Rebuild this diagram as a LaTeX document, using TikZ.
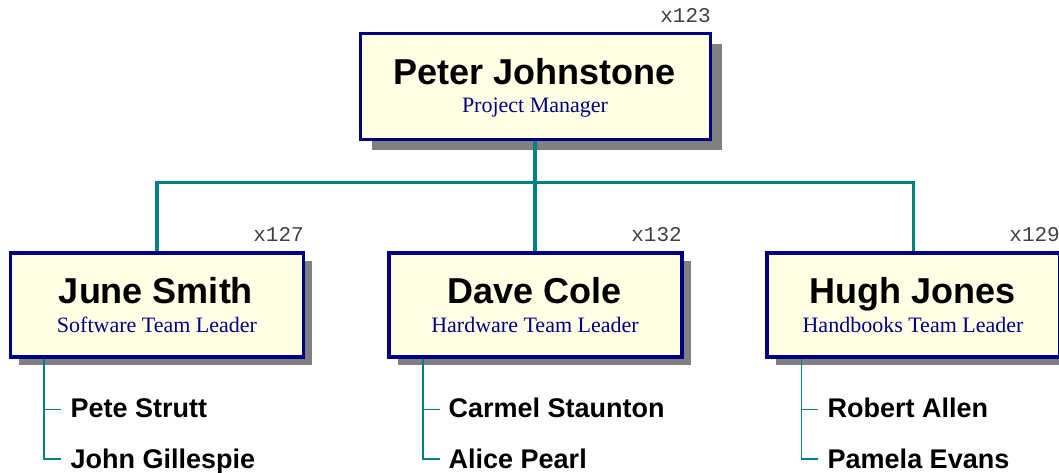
\documentclass[tikz,border=0pt]{standalone}
\usepackage{fontspec}
\setmainfont{Liberation Sans}
\newfontfamily\serifface{Liberation Serif}
\newfontfamily\monoface{Liberation Mono}
\usetikzlibrary{shadows}
\definecolor{boxnavy}{RGB}{0,0,128}
\definecolor{boxfill}{RGB}{255,255,230}
\definecolor{connteal}{RGB}{0,128,128}
\definecolor{shadowgray}{RGB}{128,128,128}
\definecolor{codegray}{RGB}{64,64,64}
\tikzset{
  personbox/.style={draw=boxnavy, line width=3.2bp, fill=boxfill, rectangle, inner sep=0pt},
  topbox/.style={personbox, minimum width=350bp, minimum height=106bp,
    drop shadow={shadow xshift=11bp, shadow yshift=-11bp, fill=shadowgray, opacity=1}},
  childbox/.style={personbox, minimum width=293bp, minimum height=104bp,
    drop shadow={shadow xshift=8.5bp, shadow yshift=-8.5bp, fill=shadowgray, opacity=1}},
  nametext/.style={anchor=base, inner sep=0pt, font=\fontsize{36bp}{40bp}\selectfont\bfseries},
  roletext/.style={anchor=base, inner sep=0pt, text=boxnavy, font=\fontsize{22bp}{25bp}\selectfont\serifface},
  codetext/.style={anchor=base east, inner sep=0pt, text=codegray, font=\fontsize{21bp}{25bp}\selectfont\monoface},
  subtext/.style={anchor=base west, inner sep=0pt, font=\fontsize{27bp}{30bp}\selectfont\bfseries},
  conn/.style={draw=connteal, line width=3.6bp},
  subconn/.style={draw=connteal, line width=1.8bp},
}
\begin{document}
\begin{tikzpicture}[x=1bp, y=-1bp]
\useasboundingbox (0,0) rectangle (1059,473);
\clip (0,0) rectangle (1059,473);

% top box
\node[topbox] (top) at (535.5,86.5) {};
\node[nametext] (topname) at (534.5,84.5) {Peter Johnstone};
\node[roletext] (toprole) at (535,113) {Project Manager};
\node[codetext] (topcode) at (711,22.5) {x123};

% children
\node[childbox] (june) at (157,305) {};
\node[nametext] (junename) at (156,303.5) {June Smith};
\node[roletext] (junerole) at (157,333) {Software Team Leader};
\node[codetext] (junecode) at (304,242) {x127};

\node[childbox] (dave) at (535.5,305) {};
\node[nametext] (davename) at (534.5,303.5) {Dave Cole};
\node[roletext] (daverole) at (535,333) {Hardware Team Leader};
\node[codetext] (davecode) at (682,242) {x132};

\node[childbox] (hugh) at (913.5,305) {};
\node[nametext] (hughname) at (912.5,303.5) {Hugh Jones};
\node[roletext] (hughrole) at (913,333) {Handbooks Team Leader};
\node[codetext] (hughcode) at (1060,242) {x129};

% connectors
\coordinate (bus) at (535,182.5);
\draw[conn] (top.south -| bus) -- (bus);
\draw[conn] (june.north) |- (bus) -| (hugh.north);
\draw[conn] (bus) -- (dave.north -| bus);

% sub-items
\node[subtext] (p1) at (70.5,418) {Pete Strutt};
\node[subtext] (p2) at (70.5,468) {John Gillespie};
\node[subtext] (p3) at (448.5,418) {Carmel Staunton};
\node[subtext] (p4) at (448.5,468) {Alice Pearl};
\node[subtext] (p5) at (827.5,418) {Robert Allen};
\node[subtext] (p6) at (827.5,468) {Pamela Evans};

\coordinate (j1) at (44.3,409.5);
\coordinate (j2) at (44.3,459);
\draw[subconn] (june.south -| j1) -- (j2) -- ++(16.5,0);
\draw[subconn] (j1) -- ++(16.5,0);

\coordinate (d1) at (423,409.5);
\coordinate (d2) at (423,459);
\draw[subconn] (dave.south -| d1) -- (d2) -- ++(16.5,0);
\draw[subconn] (d1) -- ++(16.5,0);

\coordinate (h1) at (801.5,409.5);
\coordinate (h2) at (801.5,459);
\draw[subconn] (hugh.south -| h1) -- (h2) -- ++(16.5,0);
\draw[subconn] (h1) -- ++(16.5,0);
\end{tikzpicture}
\end{document}
